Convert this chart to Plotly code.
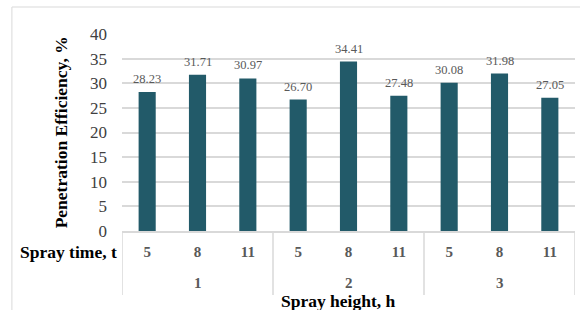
import plotly.graph_objects as go

spray_height = ["1", "1", "1", "2", "2", "2", "3", "3", "3"]
spray_time = ["5", "8", "11", "5", "8", "11", "5", "8", "11"]
efficiency = [28.23, 31.71, 30.97, 26.70, 34.41, 27.48, 30.08, 31.98, 27.05]
y_ticks = [0, 5, 10, 15, 20, 25, 30, 35, 40]
group_labels = ["1", "2", "3"]

FONT = "'Liberation Serif', 'Times New Roman', serif"
GRID = "#d9d9d9"
TITLE_SIZE = 17.5

categories = [f"{h}|{t}" for h, t in zip(spray_height, spray_time)]

fig = go.Figure(
    go.Bar(
        x=categories,
        y=efficiency,
        marker=dict(color="#225A69", line=dict(width=0)),
        cliponaxis=False,
        hoverinfo="skip",
    )
)

annotations = [
    dict(
        text="<b>Penetration Efficiency, %</b>",
        xref="paper", yref="paper",
        x=-0.135, y=0.50,
        xanchor="center", yanchor="middle",
        textangle=-90,
        showarrow=False,
        font=dict(family=FONT, size=TITLE_SIZE, color="black"),
    ),
    dict(
        text="<b>Spray time, t</b>",
        xref="paper", yref="paper",
        x=-0.006, y=-0.107,
        xanchor="right", yanchor="middle",
        showarrow=False,
        font=dict(family=FONT, size=TITLE_SIZE, color="black"),
    ),
    dict(
        text="<b>Spray height, h</b>",
        xref="paper", yref="paper",
        x=0.479, y=-0.357,
        xanchor="center", yanchor="middle",
        showarrow=False,
        font=dict(family=FONT, size=TITLE_SIZE, color="black"),
    ),
]

# value labels above bars
for c, v in zip(categories, efficiency):
    annotations.append(
        dict(
            text=f"{v:.2f}",
            xref="x", yref="y",
            x=c, y=v,
            xanchor="center", yanchor="middle",
            yshift=13,
            showarrow=False,
            font=dict(family=FONT, size=12.5, color="#595959"),
        )
    )

n_per_group = len(spray_time) // len(group_labels)
for gi, g in enumerate(group_labels):
    annotations.append(
        dict(
            text=f"<b>{g}</b>",
            xref="x", yref="paper",
            x=gi * n_per_group + (n_per_group - 1) / 2,
            y=-0.266,
            xanchor="center", yanchor="middle",
            showarrow=False,
            font=dict(family=FONT, size=15, color="#595959"),
        )
    )

shapes = [
    dict(
        type="rect",
        xref="paper", yref="paper",
        x0=-0.243, x1=1.2, y0=-0.6, y1=1.137,
        line=dict(color=GRID, width=1),
        layer="below",
    )
]
for gi in range(len(group_labels) + 1):
    xb = gi * n_per_group - 0.5
    shapes.append(
        dict(
            type="line",
            xref="x", yref="paper",
            x0=xb, x1=xb, y0=0, y1=-0.325,
            line=dict(color=GRID, width=1.5),
        )
    )

fig.update_layout(
    width=580,
    height=310,
    margin=dict(l=122, r=5, t=34, b=79),
    paper_bgcolor="white",
    plot_bgcolor="white",
    showlegend=False,
    bargap=0.66,
    font=dict(family=FONT),
    xaxis=dict(
        type="category",
        automargin=False,
        tickvals=categories,
        ticktext=[f"<b>{t}</b>" for t in spray_time],
        showline=True,
        linecolor=GRID,
        linewidth=1.5,
        ticks="",
        ticklabelstandoff=6,
        tickfont=dict(family=FONT, size=15, color="#595959"),
        showgrid=False,
        range=[-0.5, len(categories) - 0.5],
    ),
    yaxis=dict(
        automargin=False,
        range=[0, 40],
        tickvals=y_ticks,
        showgrid=True,
        gridcolor=GRID,
        gridwidth=1.5,
        zeroline=False,
        showline=False,
        ticks="",
        ticklabelstandoff=14,
        tickfont=dict(family=FONT, size=17, color="#404040"),
    ),
    annotations=annotations,
    shapes=shapes,
)

fig.write_html(
    "out.html",
    config={"displayModeBar": False},
    post_script="document.body.style.margin='0';document.body.style.padding='0';",
)
